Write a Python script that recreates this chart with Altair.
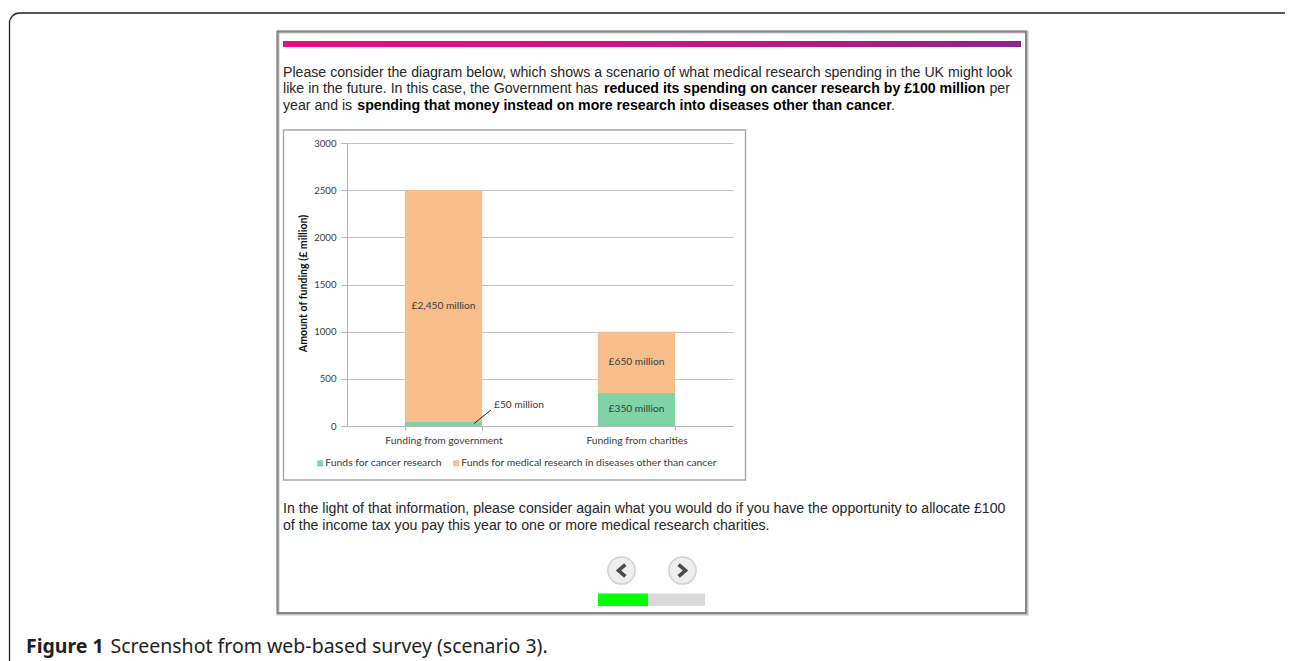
import altair as alt
import pandas as pd

categories = ["Funding from government", "Funding from charities"]
series = ["Funds for cancer research", "Funds for medical research in diseases other than cancer"]
cancer_values = [50, 350]
other_values = [2450, 650]
cancer_labels = ["", "£350 million"]
other_labels = ["£2,450 million", "£650 million"]
y_ticks = [0, 500, 1000, 1500, 2000, 2500, 3000]
callout_label = "£50 million"
callout_value = 220

GREEN, ORANGE = "#7fd4a5", "#f7be8c"
CHART_FONT = "Lato"
TEXT_FONT = "Liberation Sans"
CAP_FONT = "Noto Sans"

PL, PT = 339, 135
W, H = 386, 283
TOTAL_W, TOTAL_H = 1277, 653


def vx(p):
    return p - 8 - PL


def vy(p):
    return p - 8 - PT


ONE = alt.Data(values=[{"a": 1}])


def txt(s, x, y, size=14.15, bold=False, font=TEXT_FONT, color="#262626", align="left"):
    return alt.Chart(ONE).mark_text(
        text=s, font=font, fontSize=size, fontWeight="bold" if bold else "normal",
        color=color, align=align, baseline="alphabetic",
    ).encode(x=alt.value(vx(x)), y=alt.value(vy(y)))


def box(x1, y1, x2, y2, **kw):
    return alt.Chart(ONE).mark_rect(**kw).encode(
        x=alt.value(vx(x1)), x2=alt.value(vx(x2)), y=alt.value(vy(y1)), y2=alt.value(vy(y2))
    )


rows = []
for i, c in enumerate(categories):
    rows.append({"cat": c, "series": series[0], "value": cancer_values[i], "ord": 0,
                 "mid": cancer_values[i] / 2, "label": cancer_labels[i]})
    rows.append({"cat": c, "series": series[1], "value": other_values[i], "ord": 1,
                 "mid": cancer_values[i] + other_values[i] / 2, "label": other_labels[i]})
df = pd.DataFrame(rows)

x_enc = alt.X(
    "cat:N", sort=categories, title=None,
    scale=alt.Scale(paddingInner=0.6, paddingOuter=0.3),
    axis=alt.Axis(labelAngle=0, labelFont=CHART_FONT, labelFontSize=10.3, labelColor="#3a3a3a",
                  labelPadding=5, tickBand="extent", tickSize=4, tickColor="#b5b5b5",
                  domainColor="#b5b5b5", domainWidth=1.2, grid=False),
)
y_scale = alt.Scale(domain=[0, 3000], nice=False)
y_enc = alt.Y(
    "value:Q", stack="zero", scale=y_scale, title="Amount of funding (£ million)",
    axis=alt.Axis(values=y_ticks, format="d", labelFont=CHART_FONT, labelFontSize=9.6,
                  labelColor="#3a3a3a", labelPadding=5, tickSize=6, tickColor="#b5b5b5",
                  domainColor="#b5b5b5", domainWidth=1.2, gridColor="#c2c2c2", gridWidth=1.1,
                  titleFont=CHART_FONT, titleFontSize=10.6, titleFontWeight="bold",
                  titleColor="#111111", titleX=vx(308), titleY=vy(283)),
)

bars = alt.Chart(df).mark_bar().encode(
    x=x_enc, y=y_enc,
    color=alt.Color(
        "series:N", scale=alt.Scale(domain=series, range=[GREEN, ORANGE]),
        legend=alt.Legend(title=None, orient="none", legendX=vx(315), legendY=vy(458),
                          direction="horizontal", symbolType="square", symbolSize=36,
                          symbolStrokeWidth=0, labelFont=CHART_FONT, labelFontSize=10.35,
                          labelColor="#3a3a3a", labelOffset=0, columnPadding=9,
                          labelLimit=400),
    ),
    order=alt.Order("ord:Q"),
)

labels = alt.Chart(df[df["label"] != ""]).mark_text(
    font=CHART_FONT, fontSize=10.2, color="#3d3a36", align="center", baseline="middle"
).encode(
    x=alt.X("cat:N", sort=categories),
    y=alt.Y("mid:Q", scale=y_scale),
    text="label:N",
)

callout = alt.Chart(pd.DataFrame({"cat": [categories[0]], "v": [callout_value], "t": [callout_label]})).mark_text(
    font=CHART_FONT, fontSize=10.2, color="#3d3a36", align="left", baseline="middle", dx=50.5
).encode(x=alt.X("cat:N", sort=categories), y=alt.Y("v:Q", scale=y_scale), text="t:N")

leader = alt.Chart(ONE).mark_rule(color="#222222", strokeWidth=1).encode(
    x=alt.value(vx(474)), x2=alt.value(vx(491)), y=alt.value(vy(423.5)), y2=alt.value(vy(410))
)

outer = box(9.5, 13, 1297, 800, fillOpacity=0, stroke="#222222", strokeWidth=1.3, cornerRadius=10)
frame_shadow = box(278, 32, 1027, 614, fillOpacity=0, stroke="#c4c4c4", strokeWidth=3)
frame = box(277.5, 31.5, 1026, 613, fillOpacity=0, stroke="#868686", strokeWidth=2)
chart_box = box(283.5, 130, 745.5, 480, fillOpacity=0, stroke="#a6a6a6", strokeWidth=1.4)
gradient = box(283, 41, 1021, 47, stroke=None, color=alt.Gradient(
    gradient="linear", x1=0, x2=1, y1=0, y2=0,
    stops=[alt.GradientStop(offset=0, color="#ee0a84"),
           alt.GradientStop(offset=0.6, color="#c4148a"),
           alt.GradientStop(offset=1, color="#8c2392")]))

prog_bg = box(648, 593.5, 705, 606, color="#d9d9d9")
prog_fg = box(598, 593.5, 648, 606, color="#00ff00")


def button(x, y, path):
    c = alt.Chart(ONE).mark_point(shape="circle", filled=True, size=740, fill="#eeeeee",
                                  stroke="#d2d2d2", strokeWidth=1.5, opacity=1).encode(
        x=alt.value(vx(x)), y=alt.value(vy(y)))
    g = alt.Chart(ONE).mark_point(shape=path, filled=False, size=290, stroke="#4a4a4a",
                                  strokeWidth=3.6, opacity=1).encode(
        x=alt.value(vx(x)), y=alt.value(vy(y)))
    return c + g


texts = [
    txt("Please consider the diagram below, which shows a scenario of what medical research spending in the UK might look", 283, 76.5),
    txt("like in the future. In this case, the Government has", 283, 93),
    txt("reduced its spending on cancer research by £100 million", 604, 93, bold=True, color="#000000"),
    txt("per", 989.5, 93),
    txt("year and is", 283, 110),
    txt("spending that money instead on more research into diseases other than cancer", 357.3, 110, bold=True, color="#000000"),
    txt(".", 891, 110),
    txt("In the light of that information, please consider again what you would do if you have the opportunity to allocate £100", 283, 513),
    txt("of the income tax you pay this year to one or more medical research charities.", 283, 530),
    txt("Figure 1", 26, 653, size=19.5, bold=True, font=CAP_FONT, color="#231f20"),
    txt("Screenshot from web-based survey (scenario 3).", 110.5, 653, size=19.5, font=CAP_FONT, color="#231f20"),
]

chart = alt.layer(
    outer, frame_shadow, frame, chart_box, gradient,
    bars, labels, callout, leader,
    prog_bg, prog_fg,
    button(621.5, 570.5, "M 0.45 -0.7 L -0.35 0 L 0.45 0.7"),
    button(682.5, 570.5, "M -0.45 -0.7 L 0.35 0 L -0.45 0.7"),
    *texts,
).properties(
    width=W, height=H,
    padding={"left": PL, "top": PT, "right": TOTAL_W - PL - W, "bottom": TOTAL_H - PT - H},
    autosize=alt.AutoSizeParams(type="none"),
    background="white",
).configure_view(stroke=None)

chart.save("out.html", embed_options={"renderer": "svg", "actions": False})
